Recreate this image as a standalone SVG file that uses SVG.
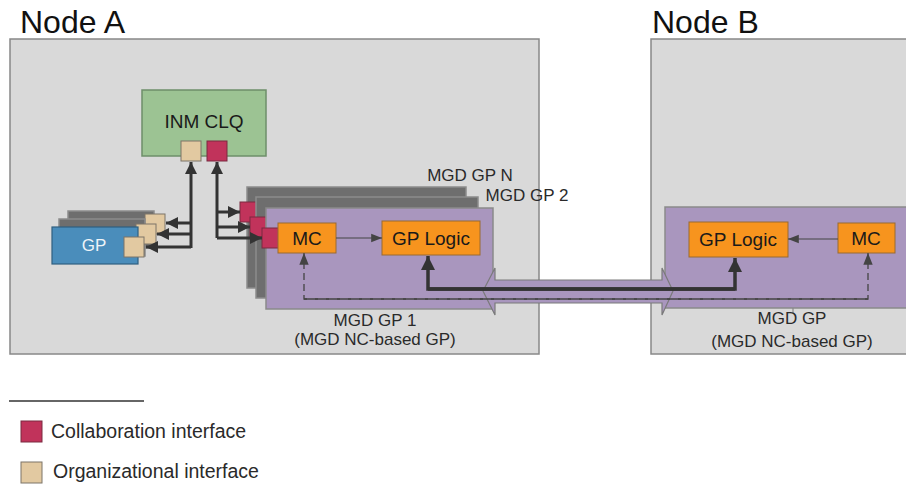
<svg xmlns="http://www.w3.org/2000/svg" width="906" height="485" viewBox="0 0 906 485">
<defs>
<style>
text{font-family:"Liberation Sans",Arial,sans-serif;fill:#2a2a2a}
.node{fill:#d9d9d9;stroke:#888;stroke-width:1.5}
.title{font-size:32px;fill:#111}
.lbl{font-size:17px;text-anchor:middle}
.box{font-size:19px;text-anchor:middle;fill:#1a1a1a}
.stack{fill:#6e6e6e;stroke:#8c8c8c;stroke-width:1.5}
.purple{fill:#a996be;stroke:#8a8a8a;stroke-width:1.5}
.orange{fill:#f7941e;stroke:#9a6a30;stroke-width:1}
.red{fill:#c1335b;stroke:#7a2a40;stroke-width:1}
.tan{fill:#e2c9a1;stroke:#7d7468;stroke-width:1}
.thick{fill:none;stroke:#333;stroke-width:3.5}
.med{fill:none;stroke:#333;stroke-width:3}
.thin{fill:none;stroke:#444;stroke-width:1.2}
.dash{fill:none;stroke:#444;stroke-width:1.3;stroke-dasharray:7 4}
</style>
<marker id="ah" viewBox="0 0 10 10" refX="10" refY="5" markerWidth="4" markerHeight="4" markerUnits="strokeWidth" orient="auto"><path d="M0,0L10,5L0,10z" fill="#333"/></marker>
<marker id="ahs" viewBox="0 0 10 10" refX="10" refY="5" markerWidth="9" markerHeight="9" markerUnits="strokeWidth" orient="auto"><path d="M0,1L10,5L0,9z" fill="#444"/></marker>
</defs>

<g id="nodeA">
<rect class="node" x="10" y="39" width="529" height="315"/>
<text class="title" x="20" y="33">Node A</text>
</g>
<g id="nodeB">
<rect class="node" x="651" y="39" width="270" height="315"/>
<text class="title" x="652" y="33">Node B</text>
</g>

<g id="inm-clq">
<rect x="142" y="90" width="124" height="66" fill="#9cc393" stroke="#6e8f6a" stroke-width="1.5"/>
<text class="box" x="204" y="128">INM CLQ</text>
<rect class="tan" x="181" y="141" width="20" height="20"/>
<rect class="red" x="207" y="141" width="20" height="20"/>
</g>

<g id="gp">
<rect class="stack" x="68" y="211" width="86" height="37"/>
<rect class="tan" x="145" y="214" width="20" height="20"/>
<rect class="stack" x="59" y="219" width="86" height="37"/>
<rect class="tan" x="136" y="224" width="20" height="20"/>
<rect x="52" y="227" width="86" height="37" fill="#4a8dbb" stroke="#2f5f80" stroke-width="1.2"/>
<text x="94" y="251" style="font-size:17px;text-anchor:middle;fill:#eef4f8">GP</text>
<rect class="tan" x="124" y="237" width="20" height="20"/>
</g>

<g id="mgd-gp-stack">
<rect class="stack" x="247" y="187" width="219" height="101"/>
<rect class="red" x="240" y="202" width="20" height="20"/>
<rect class="stack" x="256" y="197" width="222" height="101"/>
<rect class="red" x="250" y="217" width="20" height="20"/>
<rect class="purple" x="266" y="208" width="227" height="101"/>
<rect class="red" x="262" y="228" width="20" height="20"/>
<text class="lbl" x="470" y="181">MGD GP N</text>
<text class="lbl" x="527" y="201">MGD GP 2</text>
<text class="lbl" x="375" y="326">MGD GP 1</text>
<text class="lbl" x="375" y="345">(MGD NC-based GP)</text>
</g>

<g id="mgd-gp-b">
<rect class="purple" x="665" y="207" width="260" height="101"/>
<line x1="793" y1="308" x2="793" y2="313" stroke="#888" stroke-width="1.2"/>
<text class="lbl" x="792" y="324">MGD GP</text>
<text class="lbl" x="792" y="347">(MGD NC-based GP)</text>
</g>

<g id="mc-a">
<rect class="orange" x="278" y="223" width="58" height="30"/>
<text class="box" x="307" y="245">MC</text>
</g>
<g id="gplogic-a">
<rect class="orange" x="382" y="221" width="98" height="34"/>
<text class="box" x="431" y="245">GP Logic</text>
</g>
<g id="gplogic-b">
<rect class="orange" x="689" y="222" width="99" height="35"/>
<text class="box" x="738" y="246">GP Logic</text>
</g>
<g id="mc-b">
<rect class="orange" x="838" y="223" width="57" height="30"/>
<text class="box" x="866" y="245">MC</text>
</g>

<g id="link">
<polygon points="483,291 495,268 495,280 662,280 662,268 673,291 662,315 662,303 495,303 495,315" fill="#a996be" stroke="#7a7a7a" stroke-width="1.2"/>
</g>

<g id="connectors">
<path class="med" d="M191,248V162" marker-end="url(#ah)"/>
<path class="med" d="M191,223H166" marker-end="url(#ah)"/>
<path class="med" d="M191,234H157" marker-end="url(#ah)"/>
<path class="med" d="M191,247H146" marker-end="url(#ah)"/>
<path class="med" d="M217,238V162" marker-end="url(#ah)"/>
<path class="med" d="M217,212H240" marker-end="url(#ah)"/>
<path class="med" d="M217,227H250" marker-end="url(#ah)"/>
<path class="med" d="M217,238H262" marker-end="url(#ah)"/>
<path class="thin" d="M336,238H382" marker-end="url(#ahs)"/>
<path class="thin" d="M838,239H788" marker-end="url(#ahs)"/>
<path class="thick" d="M735,289H428V256" marker-end="url(#ah)"/>
<path class="thick" d="M428,289H735V258" marker-end="url(#ah)"/>
<path class="dash" d="M868,299H304V253" marker-end="url(#ahs)"/>
<path class="dash" d="M304,299H868V253" marker-end="url(#ahs)"/>
</g>

<g id="legend">
<line x1="9" y1="401" x2="144" y2="401" stroke="#333" stroke-width="1.5"/>
<rect class="red" x="21" y="421" width="21" height="21"/>
<text x="51" y="438" style="font-size:19.5px">Collaboration interface</text>
<rect class="tan" x="21" y="462" width="21" height="21"/>
<text x="53" y="478" style="font-size:19.5px">Organizational interface</text>
</g>
</svg>
